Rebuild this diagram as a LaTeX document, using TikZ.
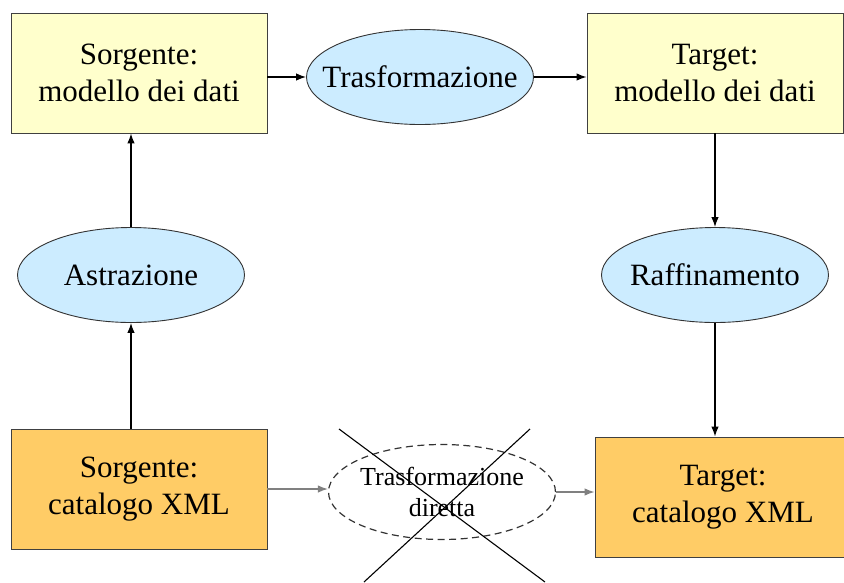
\documentclass[tikz,border=0pt]{standalone}
\usepackage{fontspec}
\setmainfont{Liberation Serif}
\usetikzlibrary{arrows.meta, shapes.geometric}
\definecolor{modelyellow}{HTML}{FFFFCC}
\definecolor{xmlorange}{HTML}{FFCC66}
\definecolor{stepblue}{HTML}{CCECFF}
\tikzstyle{modelblock} = [draw=black!75, fill=modelyellow, minimum width=256pt, minimum height=120pt, align=center, inner sep=0pt]
\tikzstyle{xmlblock} = [modelblock, fill=xmlorange]
\tikzstyle{stepellipse} = [draw=black!80, fill=stepblue, ellipse, minimum width=227pt, minimum height=95pt, inner sep=0pt]
\tikzstyle{connector} = [-{Latex[length=10pt, width=7.5pt]}, line width=1.3pt]

\begin{document}
\begin{tikzpicture}[x=1pt, y=-1pt, font=\fontsize{31}{37}\selectfont, line width=0.9pt]
      \useasboundingbox (0, 0) rectangle (844, 582);
      \node[modelblock] (srcmod) at (139, 73) {Sorgente:\\modello dei dati};
      \node[stepellipse] (trasf) at (420, 77) {};
      \node (trasftext) at (trasf) {Trasformazione};
      \node[modelblock] (tgtmod) at (715, 73) {Target:\\modello dei dati};
      \node[stepellipse] (astr) at (131, 275) {};
      \node (astrtext) at (astr) {Astrazione};
      \node[stepellipse] (raff) at (715, 275) {};
      \node (rafftext) at (raff) {Raffinamento};
      \node[xmlblock] (srcxml) at (139, 489) {Sorgente:\\catalogo XML};
      \node[xmlblock] (tgtxml) at (723, 497) {Target:\\catalogo XML};
      \node[stepellipse, fill=none, line width=1.2pt, dash pattern=on 7pt off 4.5pt] (diretta) at (442, 492) {};
      \node[align=center, font=\fontsize{26}{31}\selectfont] (direttatext) at (diretta) {Trasformazione\\diretta};
      \draw[connector] (trasf.west -| srcmod.east) -- (trasf.west);
      \draw[connector] (trasf.east) -- (trasf.east -| tgtmod.west);
      \draw[connector] (srcxml.north -| astr) -- (astr.south);
      \draw[connector] (astr.north) -- (srcmod.south -| astr);
      \draw[connector] (tgtmod.south -| raff) -- (raff.north);
      \draw[connector] (raff.south) -- (raff.south |- tgtxml.north);
      \draw[connector, black!50] (srcxml.east) -- (srcxml.east -| diretta.west);
      \draw[connector, black!50] (diretta.east) -- (diretta.east -| tgtxml.west);
      % cross over the direct transformation
      \draw[line width=1.1pt] (339, 429) -- (545, 582);
      \draw[line width=1.1pt] (530, 429) -- (364, 582);
    \end{tikzpicture}
\end{document}
